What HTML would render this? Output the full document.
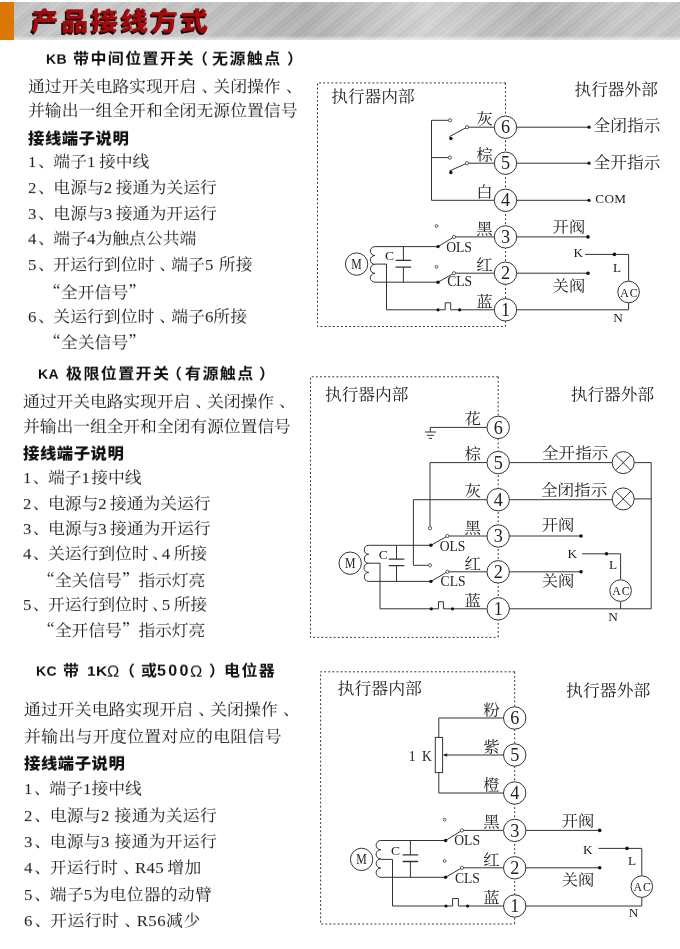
<!DOCTYPE html>
<html lang="zh-CN">
<head>
<meta charset="utf-8">
<title>产品接线方式</title>
<style>
html,body{margin:0;padding:0;background:#fff;}
body{width:680px;height:949px;position:relative;overflow:hidden;font-family:"Liberation Serif","Noto Serif CJK SC",serif;color:#222;}
#hdr{position:absolute;left:0;top:2px;width:680px;height:37.5px;background:
 linear-gradient(180deg,rgba(255,255,255,.12) 0,rgba(255,255,255,0) 1.5px,rgba(255,255,255,0) 33.5px,rgba(255,255,255,.55) 37.5px),
 repeating-linear-gradient(140deg,rgba(255,255,255,.09) 0,rgba(255,255,255,0) 1.5px,rgba(0,0,0,.025) 3px,rgba(255,255,255,0) 4.3px),
 repeating-linear-gradient(140deg,rgba(255,255,255,0) 0,rgba(255,255,255,.10) 5px,rgba(0,0,0,.03) 11px,rgba(255,255,255,0) 17px),
 linear-gradient(90deg,#c2c2c2 0%,#c9c9c9 14%,#c3c3c3 30%,#b2b2b2 45%,#d4d4d4 63%,#b5b5b5 79%,#c9c9c9 92%,#c6c6c6 100%);}
#org{position:absolute;left:0;top:2px;width:13.7px;height:37.5px;background:#db7707;}
#ttl{position:absolute;left:30.5px;top:2.5px;height:38px;line-height:38px;font-family:"Liberation Sans","Noto Sans CJK SC",sans-serif;font-weight:900;font-size:27.4px;color:#a20a0c;text-shadow:-1.5px 1.5px 0 #1a0000;white-space:nowrap;letter-spacing:2.5px;transform:scaleY(0.92);transform-origin:0 50%;}
.t{position:absolute;white-space:nowrap;font-size:16.85px;letter-spacing:0px;line-height:20px;height:20px;color:#222;font-weight:400;transform:scaleY(0.925);transform-origin:0 82%;}
.h{position:absolute;white-space:nowrap;font-family:"Liberation Sans","Noto Sans CJK SC",sans-serif;font-weight:700;font-size:16px;letter-spacing:1.4px;line-height:20px;height:20px;color:#111;transform:scaleY(0.93);transform-origin:0 55%;}
.g{display:inline-block;width:3.5px;}
.c{position:relative;left:5px;}
.c1{position:relative;left:1.5px;}
.q{font-family:"Noto Serif CJK SC",serif;}
.b{position:absolute;white-space:nowrap;font-family:"Liberation Sans","Noto Sans CJK SC",sans-serif;font-weight:900;font-size:16.4px;letter-spacing:0.5px;line-height:20px;height:20px;color:#111;transform:scaleY(0.95);transform-origin:0 55%;}
svg{position:absolute;left:0;top:0;}
body>*{will-change:transform;}
svg text{font-family:"Liberation Serif","Noto Serif CJK SC",serif;fill:#222;font-weight:400;}
</style>
</head>
<body>
<div id="hdr"></div><div id="org"></div><div id="ttl">产品接线方式</div>

<div class="h" style="left:46.2px;top:48.8px;font-size:14px;letter-spacing:0.5px;">KB</div>
<div class="h" style="left:73.4px;top:48.8px;">带中间位置开关</div>
<div class="h" style="left:192.2px;top:48.8px;letter-spacing:0;">（</div>
<div class="h" style="left:212.4px;top:48.8px;">无源触点</div>
<div class="h" style="left:286.5px;top:48.8px;letter-spacing:0;">）</div>
<div class="t" style="left:28.2px;top:77.0px;">通过开关电路实现开启<span class="c">、</span>关闭操作<span class="c">、</span></div>
<div class="t" style="left:28.2px;top:101.2px;">并输出一组全开和全闭无源位置信号</div>
<div class="b" style="left:28.2px;top:128.0px;">接线端子说明</div>
<div class="t" style="left:28.2px;top:152.4px;">1<span class="c1">、</span>端子1<i class="g"></i>接中线</div>
<div class="t" style="left:28.2px;top:178.0px;">2<span class="c1">、</span>电源与2<i class="g"></i>接通为关运行</div>
<div class="t" style="left:28.2px;top:203.6px;">3<span class="c1">、</span>电源与3<i class="g"></i>接通为开运行</div>
<div class="t" style="left:28.2px;top:228.8px;">4<span class="c1">、</span>端子4为触点公共端</div>
<div class="t" style="left:28.2px;top:254.7px;">5<span class="c1">、</span>开运行到位时<span class="c">、</span>端子5<i class="g"></i><i class="g" style="width:2px"></i>所接</div>
<div class="t" style="left:44.2px;top:280.6px;"><span class="q">“</span>全开信号<span class="q">”</span></div>
<div class="t" style="left:28.2px;top:306.5px;">6<span class="c1">、</span>关运行到位时<span class="c">、</span>端子6所接</div>
<div class="t" style="left:44.2px;top:331.4px;"><span class="q">“</span>全关信号<span class="q">”</span></div>
<div class="h" style="left:37.6px;top:363.8px;font-size:14px;letter-spacing:0.5px;">KA</div>
<div class="h" style="left:65.8px;top:363.8px;">极限位置开关</div>
<div class="h" style="left:165.6px;top:363.8px;letter-spacing:0;">（</div>
<div class="h" style="left:184.8px;top:363.8px;">有源触点</div>
<div class="h" style="left:258.8px;top:363.8px;letter-spacing:0;">）</div>
<div class="t" style="left:22.9px;top:392.0px;letter-spacing:-0.12px;">通过开关电路实现开启<span class="c">、</span>关闭操作<span class="c">、</span></div>
<div class="t" style="left:22.9px;top:417.0px;letter-spacing:-0.12px;">并输出一组全开和全闭有源位置信号</div>
<div class="b" style="left:23.3px;top:443.0px;">接线端子说明</div>
<div class="t" style="left:22.9px;top:468.3px;letter-spacing:-0.12px;">1<span class="c1">、</span>端子1<i class="g" style="width:1.5px"></i>接中线</div>
<div class="t" style="left:22.9px;top:493.8px;letter-spacing:-0.12px;">2<span class="c1">、</span>电源与2<i class="g"></i>接通为关运行</div>
<div class="t" style="left:22.9px;top:518.8px;letter-spacing:-0.12px;">3<span class="c1">、</span>电源与3<i class="g"></i>接通为开运行</div>
<div class="t" style="left:22.9px;top:544.0px;letter-spacing:-0.12px;">4<span class="c1">、</span>关运行到位时<span class="c" style="margin-right:-3.3px;left:3.5px">、</span>4<i class="g"></i>所接</div>
<div class="t" style="left:37.8px;top:569.0px;letter-spacing:-0.12px;"><span class="q">“</span>全关信号<span class="q">”</span>指示灯亮</div>
<div class="t" style="left:22.9px;top:594.5px;letter-spacing:-0.12px;">5<span class="c1">、</span>开运行到位时<span class="c" style="margin-right:-3.3px;left:3.5px">、</span>5<i class="g"></i>所接</div>
<div class="t" style="left:37.8px;top:619.4px;letter-spacing:-0.12px;"><span class="q">“</span>全开信号<span class="q">”</span>指示灯亮</div>
<div class="h" style="left:35.7px;top:661.0px;font-size:14px;letter-spacing:0.5px;">KC</div>
<div class="h" style="left:62.6px;top:661.0px;">带</div>
<div class="h" style="left:86.7px;top:661.0px;font-size:15.5px;letter-spacing:0.4px;">1K</div>
<div class="h" style="left:107.3px;top:661.0px;"><span style="font-weight:400;font-size:16.5px;letter-spacing:0">Ω</span></div>
<div class="h" style="left:119.0px;top:661.0px;letter-spacing:0;">（</div>
<div class="h" style="left:141.0px;top:661.0px;">或</div>
<div class="h" style="left:156.9px;top:661.0px;font-size:16px;letter-spacing:2.3px;">500</div>
<div class="h" style="left:190.0px;top:661.0px;"><span style="font-weight:400;font-size:16.5px;letter-spacing:0">Ω</span></div>
<div class="h" style="left:209.2px;top:661.0px;letter-spacing:0;">）</div>
<div class="h" style="left:224.0px;top:661.0px;">电位器</div>
<div class="t" style="left:23.5px;top:700.2px;letter-spacing:0.08px;">通过开关电路实现开启<span class="c">、</span>关闭操作<span class="c">、</span></div>
<div class="t" style="left:23.5px;top:727.0px;letter-spacing:0.35px;">并输出与开度位置对应的电阻信号</div>
<div class="b" style="left:23.5px;top:753.0px;">接线端子说明</div>
<div class="t" style="left:23.5px;top:779.2px;">1<span class="c1">、</span>端子1接中线</div>
<div class="t" style="left:23.5px;top:806.0px;letter-spacing:0.22px;">2<span class="c1">、</span>电源与2<i class="g"></i><i class="g" style="width:1.5px"></i>接通为关运行</div>
<div class="t" style="left:23.5px;top:831.9px;letter-spacing:0.22px;">3<span class="c1">、</span>电源与3<i class="g"></i><i class="g" style="width:1.5px"></i>接通为开运行</div>
<div class="t" style="left:23.5px;top:857.8px;letter-spacing:0.22px;">4<span class="c1">、</span>开运行时<span class="c">、</span>R45<i class="g"></i>增加</div>
<div class="t" style="left:23.5px;top:884.5px;letter-spacing:0.22px;">5<span class="c1">、</span>端子5为电位器的动臂</div>
<div class="t" style="left:23.5px;top:910.9px;letter-spacing:0.45px;">6<span class="c1">、</span>开运行时<span class="c">、</span>R56减少</div>
<svg width="680" height="949" viewBox="0 0 680 949">
<g fill="none" stroke="#333" stroke-width="1" stroke-linecap="butt" stroke-linejoin="miter">
<path d="M505.5,82.9 L317.5,82.9 L317.5,326.5 L505.5,326.5" stroke-dasharray="1.9,2.2" stroke-width="1"/>
<path d="M505.5,82.9 L505.5,326.5" stroke-dasharray="1.9,2.2" stroke-width="1"/>
<polyline points="449.0,120.3 431.5,120.3 431.5,200.3 494.5,200.3"/>
<polyline points="431.5,157.6 448.5,157.6"/>
<polyline points="449.4,136.6 467.0,127.2 494.5,127.2"/>
<polyline points="449.4,171.0 467.0,163.2 494.5,163.2"/>
<circle cx="450.1" cy="120.3" r="1.6" fill="#fff" stroke-width="0.8"/>
<circle cx="449.9" cy="157.6" r="1.6" fill="#fff" stroke-width="0.8"/>
<circle cx="467.0" cy="127.2" r="1.6" fill="#fff" stroke-width="0.8"/>
<circle cx="467.0" cy="163.2" r="1.6" fill="#fff" stroke-width="0.8"/>
<circle cx="450.9" cy="138.5" r="1.7" fill="#111" stroke="none"/>
<circle cx="450.9" cy="172.5" r="1.7" fill="#111" stroke="none"/>
<circle cx="356.6" cy="264.1" r="11.2" fill="#fff"/>
<path d="M375.0,246.6 A4.70,4.45 0 0 0 375.0,255.5 A4.70,4.45 0 0 0 375.0,264.4 A4.70,4.45 0 0 0 375.0,273.3 A4.70,4.45 0 0 0 375.0,282.2"/>
<polyline points="375.0,246.6 438.0,246.6"/>
<polyline points="375.0,282.2 438.0,282.2"/>
<polyline points="403.4,246.6 403.4,260.4"/>
<polyline points="403.4,267.2 403.4,282.2"/>
<path d="M395.6,260.4 H411.2 M395.6,267.2 H411.2" stroke-width="1.3"/>
<polyline points="375.0,264.1 386.5,264.1 386.5,309.8 445.2,309.8 445.2,302.8 450.7,302.8 450.7,309.8 494.5,309.8"/>
<circle cx="438.0" cy="309.8" r="1.6" fill="#111" stroke="none"/>
<circle cx="459.6" cy="309.8" r="1.6" fill="#111" stroke="none"/>
<polyline points="438.0,246.6 454.0,236.9"/>
<polyline points="454.0,236.9 494.5,236.9"/>
<polyline points="438.0,282.2 454.0,273.2"/>
<polyline points="454.0,273.2 494.5,273.2"/>
<circle cx="438.0" cy="246.6" r="1.7" fill="#111" stroke="none"/>
<circle cx="438.0" cy="282.2" r="1.7" fill="#111" stroke="none"/>
<circle cx="454.0" cy="236.9" r="1.6" fill="#fff" stroke-width="0.8"/>
<circle cx="454.0" cy="273.2" r="1.6" fill="#fff" stroke-width="0.8"/>
<circle cx="436.5" cy="226.0" r="1.4" fill="#fff" stroke-width="0.8"/>
<circle cx="436.5" cy="266.8" r="1.4" fill="#fff" stroke-width="0.8"/>
<circle cx="505.5" cy="127.2" r="11.2" fill="#fff"/>
<circle cx="505.5" cy="163.2" r="11.2" fill="#fff"/>
<circle cx="505.5" cy="200.3" r="11.2" fill="#fff"/>
<circle cx="505.5" cy="236.9" r="11.2" fill="#fff"/>
<circle cx="505.5" cy="273.2" r="11.2" fill="#fff"/>
<circle cx="505.5" cy="309.8" r="11.2" fill="#fff"/>
<polyline points="516.5,127.2 589.0,127.2"/>
<circle cx="589.0" cy="127.2" r="1.6" fill="#111" stroke="none"/>
<polyline points="516.5,163.2 589.0,163.2"/>
<circle cx="589.0" cy="163.2" r="1.6" fill="#111" stroke="none"/>
<polyline points="516.5,200.3 589.0,200.3"/>
<circle cx="589.0" cy="200.3" r="1.6" fill="#111" stroke="none"/>
<polyline points="516.5,236.9 588.0,236.9"/>
<circle cx="588.0" cy="236.9" r="1.8" fill="#111" stroke="none"/>
<polyline points="516.5,273.2 588.0,273.2"/>
<circle cx="588.0" cy="273.2" r="1.8" fill="#111" stroke="none"/>
<polyline points="516.5,309.8 628.6,309.8"/>
<polyline points="585.0,254.4 628.6,254.4 628.6,281.0"/>
<polyline points="628.6,303.0 628.6,309.8"/>
<circle cx="614.4" cy="254.4" r="1.8" fill="#111" stroke="none"/>
<circle cx="628.6" cy="292.0" r="10.8" fill="#fff"/>
<path d="M498.2,376.8 L310.5,376.8 L310.5,637.4 L498.2,637.4" stroke-dasharray="1.9,2.2" stroke-width="1"/>
<path d="M498.2,376.8 L498.2,637.4" stroke-dasharray="1.9,2.2" stroke-width="1"/>
<polyline points="487.2,427.4 430.3,427.4 430.3,432.0"/>
<polyline points="424.8,432.0 436.0,432.0"/>
<polyline points="426.8,435.3 434.0,435.3"/>
<polyline points="428.8,438.4 432.0,438.4"/>
<polyline points="487.2,462.6 430.0,462.6 430.0,526.5"/>
<polyline points="487.2,499.7 413.4,499.7 413.4,565.3 428.4,565.3"/>
<circle cx="350.2" cy="563.2" r="11.2" fill="#fff"/>
<path d="M368.7,545.3 A4.70,4.51 0 0 0 368.7,554.3 A4.70,4.51 0 0 0 368.7,563.3 A4.70,4.51 0 0 0 368.7,572.4 A4.70,4.51 0 0 0 368.7,581.4"/>
<polyline points="368.7,545.3 430.9,545.3"/>
<polyline points="368.7,581.4 430.9,581.4"/>
<polyline points="396.5,545.3 396.5,559.1"/>
<polyline points="396.5,565.7 396.5,581.4"/>
<path d="M388.7,559.1 H404.3 M388.7,565.7 H404.3" stroke-width="1.3"/>
<polyline points="368.7,563.2 380.0,563.2 380.0,608.8 438.5,608.8 438.5,601.7 443.4,601.7 443.4,608.8 487.2,608.8"/>
<circle cx="431.3" cy="608.8" r="1.6" fill="#111" stroke="none"/>
<circle cx="452.5" cy="608.8" r="1.6" fill="#111" stroke="none"/>
<polyline points="430.9,545.3 447.4,536.0"/>
<polyline points="447.4,536.0 487.2,536.0"/>
<polyline points="430.9,581.4 447.4,571.8"/>
<polyline points="447.4,571.8 487.2,571.8"/>
<circle cx="430.9" cy="545.3" r="1.7" fill="#111" stroke="none"/>
<circle cx="430.9" cy="581.4" r="1.7" fill="#111" stroke="none"/>
<circle cx="447.4" cy="536.0" r="1.6" fill="#fff" stroke-width="0.8"/>
<circle cx="447.4" cy="571.8" r="1.6" fill="#fff" stroke-width="0.8"/>
<circle cx="430.0" cy="528.2" r="1.6" fill="#fff" stroke-width="0.8"/>
<circle cx="430.0" cy="565.3" r="1.6" fill="#fff" stroke-width="0.8"/>
<circle cx="498.2" cy="427.4" r="11.2" fill="#fff"/>
<circle cx="498.2" cy="462.6" r="11.2" fill="#fff"/>
<circle cx="498.2" cy="499.7" r="11.2" fill="#fff"/>
<circle cx="498.2" cy="536.0" r="11.2" fill="#fff"/>
<circle cx="498.2" cy="571.8" r="11.2" fill="#fff"/>
<circle cx="498.2" cy="608.8" r="11.2" fill="#fff"/>
<polyline points="509.2,462.6 612.2,462.6"/>
<polyline points="634.2,462.6 651.2,462.6"/>
<circle cx="623.2" cy="462.6" r="11.0" fill="#fff"/>
<polyline points="615.4,454.8 631.0,470.4"/>
<polyline points="615.4,470.4 631.0,454.8"/>
<polyline points="509.2,499.7 612.2,499.7"/>
<polyline points="634.2,498.9 651.2,498.9"/>
<circle cx="623.2" cy="498.9" r="11.0" fill="#fff"/>
<polyline points="615.4,491.1 631.0,506.7"/>
<polyline points="615.4,506.7 631.0,491.1"/>
<polyline points="651.2,462.6 651.2,608.8 509.2,608.8"/>
<polyline points="509.2,536.0 581.0,536.0"/>
<circle cx="581.0" cy="536.0" r="1.8" fill="#111" stroke="none"/>
<polyline points="509.2,571.8 581.0,571.8"/>
<circle cx="581.0" cy="571.8" r="1.8" fill="#111" stroke="none"/>
<polyline points="582.0,553.8 620.6,553.8 620.6,579.6"/>
<polyline points="620.6,601.6 620.6,608.8"/>
<circle cx="606.5" cy="553.8" r="1.8" fill="#111" stroke="none"/>
<circle cx="620.6" cy="590.6" r="10.8" fill="#fff"/>
<path d="M514.7,671.8 L320.6,671.8 L320.6,924.0 L514.7,924.0" stroke-dasharray="1.9,2.2" stroke-width="1"/>
<path d="M514.7,671.8 L514.7,924.0" stroke-dasharray="1.9,2.2" stroke-width="1"/>
<polyline points="503.7,718.0 438.8,718.0 438.8,737.4"/>
<polyline points="438.8,772.6 438.8,793.0 503.7,793.0"/>
<rect x="435.3" y="737.4" width="7.3" height="35.2" fill="#fff"/>
<polyline points="503.7,755.0 444.0,755.0"/>
<path d="M442.8,755 L447.2,753.2 L447.2,756.8 Z" fill="#222" stroke="none"/>
<circle cx="361.6" cy="859.4" r="11.2" fill="#fff"/>
<path d="M380.8,840.5 A4.70,4.60 0 0 0 380.8,849.7 A4.70,4.60 0 0 0 380.8,858.9 A4.70,4.60 0 0 0 380.8,868.1 A4.70,4.60 0 0 0 380.8,877.3"/>
<polyline points="380.8,840.5 445.6,840.5"/>
<polyline points="380.8,877.3 445.6,877.3"/>
<polyline points="410.4,840.5 410.4,854.9"/>
<polyline points="410.4,861.5 410.4,877.3"/>
<path d="M402.6,854.9 H418.2 M402.6,861.5 H418.2" stroke-width="1.3"/>
<polyline points="380.8,859.4 392.5,859.4 392.5,906.0 452.6,906.0 452.6,898.5 458.4,898.5 458.4,906.0 503.7,906.0"/>
<circle cx="446.0" cy="906.0" r="1.6" fill="#111" stroke="none"/>
<circle cx="467.6" cy="906.0" r="1.6" fill="#111" stroke="none"/>
<polyline points="445.6,840.5 461.9,830.4"/>
<polyline points="461.9,830.4 503.7,830.4"/>
<polyline points="445.6,877.3 461.9,867.8"/>
<polyline points="461.9,867.8 503.7,867.8"/>
<circle cx="445.6" cy="840.5" r="1.7" fill="#111" stroke="none"/>
<circle cx="445.6" cy="877.3" r="1.7" fill="#111" stroke="none"/>
<circle cx="461.9" cy="830.4" r="1.6" fill="#fff" stroke-width="0.8"/>
<circle cx="461.9" cy="867.8" r="1.6" fill="#fff" stroke-width="0.8"/>
<circle cx="444.6" cy="819.7" r="1.4" fill="#fff" stroke-width="0.8"/>
<circle cx="444.6" cy="861.0" r="1.4" fill="#fff" stroke-width="0.8"/>
<circle cx="514.7" cy="718.0" r="11.2" fill="#fff"/>
<circle cx="514.7" cy="755.0" r="11.2" fill="#fff"/>
<circle cx="514.7" cy="793.0" r="11.2" fill="#fff"/>
<circle cx="514.7" cy="830.4" r="11.2" fill="#fff"/>
<circle cx="514.7" cy="867.8" r="11.2" fill="#fff"/>
<circle cx="514.7" cy="906.0" r="11.2" fill="#fff"/>
<polyline points="525.7,830.4 599.7,830.4"/>
<circle cx="599.7" cy="830.4" r="1.8" fill="#111" stroke="none"/>
<polyline points="525.7,867.8 599.7,867.8"/>
<circle cx="599.7" cy="867.8" r="1.8" fill="#111" stroke="none"/>
<polyline points="525.7,906.0 641.8,906.0"/>
<polyline points="598.5,848.4 641.8,848.4 641.8,875.6"/>
<polyline points="641.8,897.6 641.8,906.0"/>
<circle cx="627.0" cy="848.4" r="1.8" fill="#111" stroke="none"/>
<circle cx="641.8" cy="886.6" r="10.8" fill="#fff"/>
</g>
<g><text x="356.6" y="268.9" font-size="14" text-anchor="middle" textLength="10.5" lengthAdjust="spacingAndGlyphs">M</text>
<text x="385.0" y="260.0" font-size="13.5">C</text>
<text x="446.2" y="251.8" font-size="13.6">OLS</text>
<text x="447.2" y="286.4" font-size="13.6">CLS</text>
<text x="505.5" y="133.3" font-size="18.2" text-anchor="middle">6</text>
<text transform="translate(492.7,123.9) scale(1,0.920)" font-size="16.5" text-anchor="end">灰</text>
<text x="505.5" y="169.3" font-size="18.2" text-anchor="middle">5</text>
<text transform="translate(492.7,159.9) scale(1,0.920)" font-size="16.5" text-anchor="end">棕</text>
<text x="505.5" y="206.4" font-size="18.2" text-anchor="middle">4</text>
<text transform="translate(492.7,197.0) scale(1,0.920)" font-size="16.5" text-anchor="end">白</text>
<text x="505.5" y="243.0" font-size="18.2" text-anchor="middle">3</text>
<text transform="translate(492.7,233.6) scale(1,0.920)" font-size="16.5" text-anchor="end">黑</text>
<text x="505.5" y="279.3" font-size="18.2" text-anchor="middle">2</text>
<text transform="translate(492.7,269.9) scale(1,0.920)" font-size="16.5" text-anchor="end">红</text>
<text x="505.5" y="315.9" font-size="18.2" text-anchor="middle">1</text>
<text transform="translate(492.7,306.5) scale(1,0.920)" font-size="16.5" text-anchor="end">蓝</text>
<text x="573.5" y="257.4" font-size="13.3">K</text>
<text x="629.5" y="296.5" font-size="13.3" text-anchor="middle" letter-spacing="1.2" textLength="18.5" lengthAdjust="spacingAndGlyphs">AC</text>
<text x="617.0" y="272.0" font-size="13.3" text-anchor="middle">L</text>
<text x="618.0" y="322.0" font-size="13.3" text-anchor="middle">N</text>
<text transform="translate(331.2,102.0) scale(1,0.920)" font-size="16.7">执行器内部</text>
<text transform="translate(574.5,94.5) scale(1,0.920)" font-size="16.7">执行器外部</text>
<text transform="translate(593.6,130.8) scale(1,0.920)" font-size="16.7">全闭指示</text>
<text transform="translate(593.6,168.0) scale(1,0.920)" font-size="16.7">全开指示</text>
<text x="595.3" y="203.0" font-size="13.2" letter-spacing="0.3">COM</text>
<text transform="translate(552.6,232.0) scale(1,0.920)" font-size="16.3">开阀</text>
<text transform="translate(552.6,290.5) scale(1,0.920)" font-size="16.3">关阀</text>
<text x="350.2" y="568.0" font-size="14" text-anchor="middle" textLength="10.5" lengthAdjust="spacingAndGlyphs">M</text>
<text x="378.8" y="558.7" font-size="13.5">C</text>
<text x="439.7" y="550.9" font-size="13.6">OLS</text>
<text x="440.6" y="585.5" font-size="13.6">CLS</text>
<text x="498.2" y="433.5" font-size="18.2" text-anchor="middle">6</text>
<text transform="translate(480.9,424.1) scale(1,0.920)" font-size="16.5" text-anchor="end">花</text>
<text x="498.2" y="468.7" font-size="18.2" text-anchor="middle">5</text>
<text transform="translate(480.9,459.3) scale(1,0.920)" font-size="16.5" text-anchor="end">棕</text>
<text x="498.2" y="505.8" font-size="18.2" text-anchor="middle">4</text>
<text transform="translate(480.9,496.4) scale(1,0.920)" font-size="16.5" text-anchor="end">灰</text>
<text x="498.2" y="542.1" font-size="18.2" text-anchor="middle">3</text>
<text transform="translate(480.9,532.7) scale(1,0.920)" font-size="16.5" text-anchor="end">黑</text>
<text x="498.2" y="577.9" font-size="18.2" text-anchor="middle">2</text>
<text transform="translate(480.9,568.5) scale(1,0.920)" font-size="16.5" text-anchor="end">红</text>
<text x="498.2" y="614.9" font-size="18.2" text-anchor="middle">1</text>
<text transform="translate(480.9,605.5) scale(1,0.920)" font-size="16.5" text-anchor="end">蓝</text>
<text x="567.5" y="558.2" font-size="13.3">K</text>
<text x="621.5" y="595.1" font-size="13.3" text-anchor="middle" letter-spacing="1.2" textLength="18.5" lengthAdjust="spacingAndGlyphs">AC</text>
<text x="613.0" y="569.4" font-size="13.3" text-anchor="middle">L</text>
<text x="613.0" y="621.2" font-size="13.3" text-anchor="middle">N</text>
<text transform="translate(325.0,399.5) scale(1,0.920)" font-size="16.7">执行器内部</text>
<text transform="translate(570.7,399.6) scale(1,0.920)" font-size="16.7">执行器外部</text>
<text transform="translate(542.0,458.3) scale(1,0.920)" font-size="16.6">全开指示</text>
<text transform="translate(540.9,495.2) scale(1,0.920)" font-size="16.6">全闭指示</text>
<text transform="translate(541.8,530.2) scale(1,0.920)" font-size="16.3">开阀</text>
<text transform="translate(541.8,585.9) scale(1,0.920)" font-size="16.3">关阀</text>
<text x="361.6" y="864.2" font-size="14" text-anchor="middle" textLength="10.5" lengthAdjust="spacingAndGlyphs">M</text>
<text x="391.0" y="854.7" font-size="13.5">C</text>
<text x="454.3" y="845.4" font-size="13.6">OLS</text>
<text x="454.9" y="882.5" font-size="13.6">CLS</text>
<text x="514.7" y="724.1" font-size="18.2" text-anchor="middle">6</text>
<text transform="translate(499.7,714.7) scale(1,0.920)" font-size="16.5" text-anchor="end">粉</text>
<text x="514.7" y="761.1" font-size="18.2" text-anchor="middle">5</text>
<text transform="translate(499.7,751.7) scale(1,0.920)" font-size="16.5" text-anchor="end">紫</text>
<text x="514.7" y="799.1" font-size="18.2" text-anchor="middle">4</text>
<text transform="translate(499.7,789.7) scale(1,0.920)" font-size="16.5" text-anchor="end">橙</text>
<text x="514.7" y="836.5" font-size="18.2" text-anchor="middle">3</text>
<text transform="translate(499.7,827.1) scale(1,0.920)" font-size="16.5" text-anchor="end">黑</text>
<text x="514.7" y="873.9" font-size="18.2" text-anchor="middle">2</text>
<text transform="translate(499.7,864.5) scale(1,0.920)" font-size="16.5" text-anchor="end">红</text>
<text x="514.7" y="912.1" font-size="18.2" text-anchor="middle">1</text>
<text transform="translate(499.7,902.7) scale(1,0.920)" font-size="16.5" text-anchor="end">蓝</text>
<text x="583.0" y="854.4" font-size="13.3">K</text>
<text x="642.7" y="891.1" font-size="13.3" text-anchor="middle" letter-spacing="1.2" textLength="18.5" lengthAdjust="spacingAndGlyphs">AC</text>
<text x="632.0" y="865.4" font-size="13.3" text-anchor="middle">L</text>
<text x="633.5" y="917.2" font-size="13.3" text-anchor="middle">N</text>
<text transform="translate(337.6,694.0) scale(1,0.920)" font-size="16.9">执行器内部</text>
<text transform="translate(566.0,696.0) scale(1,0.920)" font-size="16.9">执行器外部</text>
<text x="408.8" y="760.6" font-size="13.6" letter-spacing="1.5">1 K</text>
<text transform="translate(561.8,825.6) scale(1,0.920)" font-size="16.3">开阀</text>
<text transform="translate(561.8,885.0) scale(1,0.920)" font-size="16.3">关阀</text></g>
</svg>
</body></html>
